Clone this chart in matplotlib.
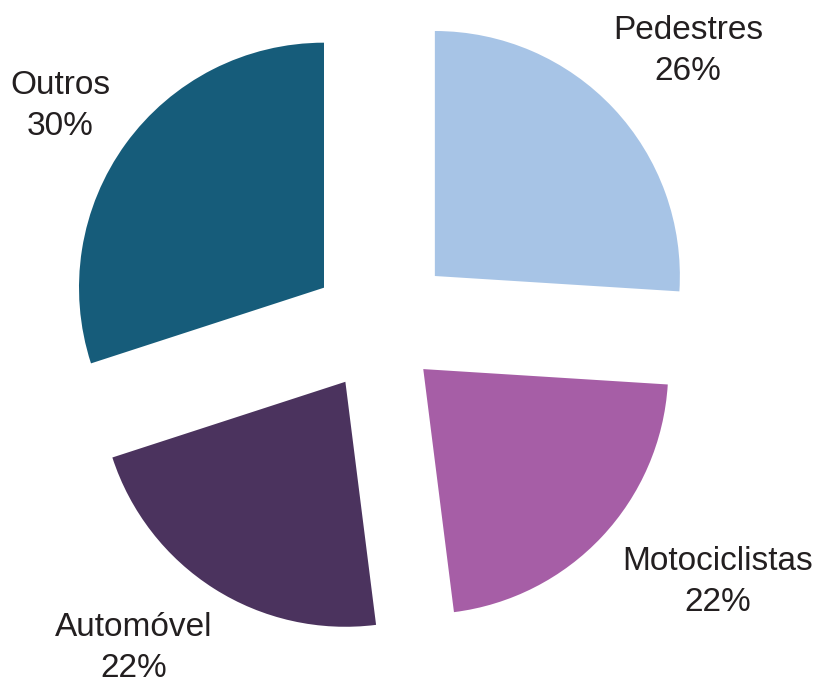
import matplotlib.pyplot as plt

labels = ["Pedestres", "Motociclistas", "Automóvel", "Outros"]
shares = [26, 22, 22, 30]
colors = ["#A7C4E6", "#A65EA6", "#4B335E", "#165C7A"]
explode = [0.31, 0.245, 0.26, 0.28]

# label anchor points in figure pixels (x, y from top)
label_pos = [(688, 51), (718, 582), (134, 648), (60, 106)]

W, H = 819, 682
R = 245.0             # pie radius in pixels
cx, cy = 379.5, 328   # pie centre in pixels (from top)

plt.rcParams['font.family'] = ['Liberation Sans', 'DejaVu Sans']
fig = plt.figure(figsize=(W / 100, H / 100), dpi=100)
ax = fig.add_axes([0, 0, 1, 1])
ax.pie(shares, colors=colors, startangle=90, counterclock=False,
       explode=explode, radius=1.0,
       wedgeprops=dict(linewidth=0))
ax.set_xlim(-cx / R, (W - cx) / R)
ax.set_ylim(-(H - cy) / R, cy / R)
ax.set_aspect('equal')
ax.axis('off')

for lab, v, (px, py) in zip(labels, shares, label_pos):
    fig.text(px / W, 1 - py / H, f"{lab}\n{v}%", ha='center', va='center',
             fontsize=24, color='#231F20', linespacing=1.38)

fig.savefig("out.png", dpi=100, facecolor='white')
